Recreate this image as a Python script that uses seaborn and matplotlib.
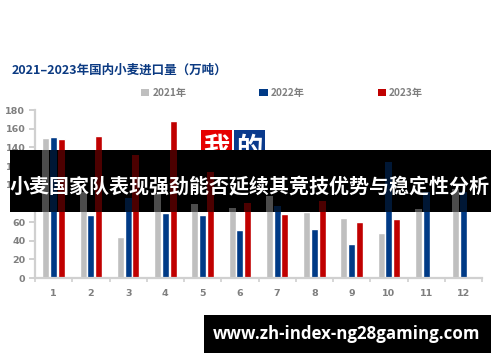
# ========== Libraries ==========

import numpy as np
import pandas as pd
import matplotlib
matplotlib.use('Agg')
import matplotlib.pyplot as plt
from matplotlib.patches import Rectangle, Patch
import seaborn as sns


# ========== Data ==========

months = ['1', '2', '3', '4', '5', '6', '7', '8', '9', '10', '11', '12']
years = ['2021年', '2022年', '2023年']
imports_2021 = [150, 92, 44, 90, 79, 75, 88, 71, 64, 48, 74, 95]
imports_2022 = [151, 67, 86, 70, 67, 51, 77, 52, 36, 124, 92, 92]
imports_2023 = [149, 152, 132, 168, 114, 80, 69, 82, 60, 63, np.nan, np.nan]
y_ticks = [0, 20, 40, 60, 80, 100, 120, 140, 160, 180]

title = '2021–2023年国内小麦进口量（万吨）'
banner_text = '小麦国家队表现强劲能否延续其竞技优势与稳定性分析'
url_text = 'www.zh-index-ng28gaming.com'

colors = ['#bfbfbf', '#003a86', '#c00000']

df = pd.DataFrame({
    'month': months * 3,
    'year': [y for y in years for _ in months],
    'value': imports_2021 + imports_2022 + imports_2023,
})

# ========== Plot ==========

sns.set_theme(style='white')
plt.rcParams['font.family'] = ['Noto Sans CJK SC', 'DejaVu Sans']

W, H = 500, 362
fig = plt.figure(figsize=(5, 3.62), dpi=100)


def fx(px):
    return px / W


def fy(py):
    return 1 - py / H


ax = fig.add_axes([fx(35), fy(278), fx(482) - fx(35), fy(110) - fy(278)])

sns.barplot(data=df, x='month', y='value', hue='year', palette=colors,
            width=0.62, gap=0.1, legend=False, ax=ax, saturation=1)

ax.set_xlim(-0.5, 11.5)
ax.set_ylim(0, 180)
ax.set_yticks(y_ticks)
ax.set_xlabel('')
ax.set_ylabel('')

grey = '#7f7f7f'
for side in ['top', 'right']:
    ax.spines[side].set_visible(False)
for side in ['left', 'bottom']:
    ax.spines[side].set_color('#d0d0d0')
    ax.spines[side].set_linewidth(1.6)

ax.tick_params(axis='y', length=4, width=1.2, color='#c8c8c8', left=True,
               labelsize=6.8, labelcolor=grey, pad=3)
ax.tick_params(axis='x', which='major', length=0, labelsize=6.8,
               labelcolor=grey, pad=8)
ax.set_xticks(np.arange(-0.5, 12, 1), minor=True)
ax.tick_params(axis='x', which='minor', length=3, width=1.2, color='#d0d0d0',
               bottom=True)
for lab in ax.get_xticklabels() + ax.get_yticklabels():
    lab.set_fontweight('bold')
    lab.set_family('DejaVu Sans')

# legend
handles = [Patch(facecolor=c, edgecolor='none') for c in colors]
leg = ax.legend(handles, years, loc='center', bbox_to_anchor=(fx(282), fy(93)),
                bbox_transform=fig.transFigure, ncol=3, frameon=False,
                handlelength=0.8, handleheight=0.8, handletextpad=0.3,
                columnspacing=7.2, prop={'size': 7.3, 'weight': 'bold'})
for t in leg.get_texts():
    t.set_color(grey)

# title
fig.text(fx(12), fy(70), title, fontsize=9, fontweight='bold',
         color='#0b3a82', va='center', ha='left')

# "我的" logo, partly under the banner
fig.add_artist(Rectangle((fx(201), fy(165)), fx(31), fy(130) - fy(165),
                         transform=fig.transFigure, facecolor='#e60000',
                         edgecolor='none', zorder=1))
fig.add_artist(Rectangle((fx(234), fy(165)), fx(31), fy(130) - fy(165),
                         transform=fig.transFigure, facecolor='#0a3a8c',
                         edgecolor='none', zorder=1))
fig.text(fx(216.5), fy(148), '我', fontsize=19, fontweight='bold',
         color='white', ha='center', va='center', zorder=1.1)
fig.text(fx(249.5), fy(148), '的', fontsize=19, fontweight='bold',
         color='white', ha='center', va='center', zorder=1.1)

# banner across the chart
banner = Rectangle((fx(10), fy(212)), fx(491) - fx(10), fy(150) - fy(212),
                   transform=fig.transFigure, facecolor='black',
                   edgecolor='none', zorder=2)
fig.add_artist(banner)

# bars faintly seen through the banner
for bar in list(ax.patches):
    if bar.get_height() != bar.get_height() or bar.get_height() == 0:
        continue
    ghost = Rectangle(bar.get_xy(), bar.get_width(), bar.get_height(),
                      transform=ax.transData, facecolor=bar.get_facecolor(),
                      edgecolor='none', alpha=0.4, zorder=2.1)
    fig.add_artist(ghost)
    ghost.set_clip_path(banner)

fig.text(fx(250), fy(186), banner_text, fontsize=14.4, fontweight='bold',
         color='white', ha='center', va='center', zorder=3)

# url box
fig.add_artist(Rectangle((fx(204), fy(353)), fx(491) - fx(204), fy(315) - fy(353),
                         transform=fig.transFigure, facecolor='black',
                         edgecolor='none', zorder=2))
fig.text(fx(347), fy(334), url_text, fontsize=12.2, fontweight='bold',
         family='Open Sans', color='white', ha='center', va='center', zorder=3)

fig.savefig('out.png', dpi=100)
